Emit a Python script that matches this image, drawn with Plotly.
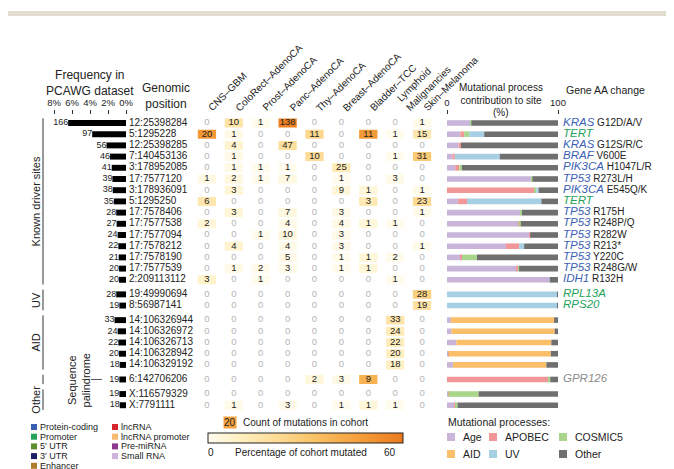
import numpy as np
import plotly.graph_objects as go

W, H = 674, 469
OFF = 8  # page body margin of the browser
FW, FH = W - OFF, H - OFF
FONT = "Liberation Sans, Arial, Helvetica, sans-serif"

# ---------------- data ----------------
genomic_positions = ["12:25398284", "5:1295228", "12:25398285", "7:140453136", "3:178952085",
                     "17:7577120", "3:178936091", "5:1295250", "17:7578406", "17:7577538",
                     "17:7577094", "17:7578212", "17:7578190", "17:7577539", "2:209113112",
                     "19:49990694", "8:56987141",
                     "14:106326944", "14:106326972", "14:106326713", "14:106328942", "14:106329192",
                     "6:142706206", "X:116579329", "X:7791111"]
pcawg_counts = [166, 97, 56, 46, 41, 39, 38, 35, 28, 27, 24, 22, 21, 20, 20,
                28, 19, 33, 24, 22, 20, 18, 19, 19, 18]
site_groups = (["Known driver sites"] * 15 + ["UV"] * 2 + ["AID"] * 5
               + ["Sequence palindrome"] + ["Other"] * 2)
PCAWG_TOTAL = 2583
freq_ticks_pct = [8, 6, 4, 2, 0]

cohorts = ["CNS–GBM", "ColoRect–AdenoCA", "Prost–AdenoCA", "Panc–AdenoCA", "Thy–AdenoCA",
           "Breast–AdenoCA", "Bladder–TCC", "Lymphoid<br>Malignancies", "Skin–Melanoma"]
cohort_sizes = [41, 60, 286, 241, 48, 198, 23, 202, 107]
cohort_counts = [
    [0, 10, 1, 138, 0, 0, 0, 0, 1],
    [20, 1, 0, 0, 11, 0, 11, 1, 15],
    [0, 4, 0, 47, 0, 0, 0, 0, 0],
    [0, 1, 0, 0, 10, 0, 0, 1, 31],
    [0, 1, 1, 1, 0, 25, 0, 0, 0],
    [1, 2, 1, 7, 0, 1, 0, 3, 0],
    [0, 3, 0, 0, 0, 9, 1, 0, 1],
    [6, 0, 0, 0, 0, 0, 3, 0, 23],
    [0, 3, 0, 7, 0, 3, 0, 0, 1],
    [2, 0, 0, 4, 0, 4, 1, 1, 0],
    [0, 0, 1, 10, 0, 3, 0, 0, 0],
    [0, 4, 0, 4, 0, 3, 0, 0, 1],
    [0, 0, 0, 5, 0, 1, 1, 2, 0],
    [0, 1, 2, 3, 0, 1, 1, 0, 0],
    [3, 0, 1, 0, 0, 0, 0, 1, 0],
    [0, 0, 0, 0, 0, 0, 0, 0, 28],
    [0, 0, 0, 0, 0, 0, 0, 0, 19],
    [0, 0, 0, 0, 0, 0, 0, 33, 0],
    [0, 0, 0, 0, 0, 0, 0, 24, 0],
    [0, 0, 0, 0, 0, 0, 0, 22, 0],
    [0, 0, 0, 0, 0, 0, 0, 20, 0],
    [0, 0, 0, 0, 0, 0, 0, 18, 0],
    [0, 0, 0, 0, 2, 3, 9, 0, 0],
    [0, 0, 0, 0, 0, 0, 0, 0, 0],
    [0, 1, 0, 3, 0, 1, 1, 1, 0],
]

process_names = ["Age", "APOBEC", "COSMIC5", "AID", "UV", "Other"]
process_colors = ["#c9b5da", "#f29797", "#a9d68b", "#fbbe69", "#a7cfe3", "#6f6f6f"]
proc_age = [21, 12, 10.5, 5, 7.5, 76, 0, 10, 66, 64, 74, 53, 12.5, 63, 92.5, 0, 0, 3.5, 4, 8.5, 1, 5.5, 0, 1, 6.5]
proc_apobec = [0, 3.5, 2, 2, 3.5, 0, 79, 8, 0, 1.5, 1, 12, 1, 1, 0, 0, 0, 0, 0, 0, 0.5, 0, 91.5, 0.5, 1.5]
proc_cosmic5 = [1, 4.5, 0, 0, 2.5, 1, 1.5, 0, 1.5, 1, 0, 0, 13.5, 1, 0, 0, 0, 0, 0, 0, 0, 0, 1.5, 27, 1.5]
proc_aid = [0, 0, 0, 0, 0, 0, 0, 0, 0, 0, 0, 0, 0, 0, 0, 0, 0, 93, 93, 85.5, 92, 84, 0, 0, 0]
proc_uv = [0, 13.5, 0, 40.5, 0, 0, 2, 67, 0, 0, 0, 4.5, 0, 0, 0, 99.5, 99.7, 0, 0, 0, 0, 0, 0, 0, 0]
proc_other = [78, 66.5, 87.5, 52.5, 86.5, 23, 17.5, 15, 32.5, 33.5, 25, 30.5, 73, 35, 7.5, 0.5, 0.3,
              3.5, 3, 6, 6.5, 10.5, 7, 71.5, 90.5]

gene_names = ["KRAS", "TERT", "KRAS", "BRAF", "PIK3CA", "TP53", "PIK3CA", "TERT", "TP53", "TP53",
              "TP53", "TP53", "TP53", "TP53", "IDH1", "RPL13A", "RPS20", "", "", "", "", "",
              "GPR126", "", ""]
gene_types = ["Protein-coding", "Promoter", "Protein-coding", "Protein-coding", "Protein-coding",
              "Protein-coding", "Protein-coding", "Promoter", "Protein-coding", "Protein-coding",
              "Protein-coding", "Protein-coding", "Protein-coding", "Protein-coding", "Protein-coding",
              "Promoter", "Promoter", "", "", "", "", "", "Intergenic", "", ""]
aa_changes = ["G12D/A/V", "", "G12S/R/C", "V600E", "H1047L/R", "R273L/H", "E545Q/K", "", "R175H",
              "R248P/Q", "R282W", "R213*", "Y220C", "R248G/W", "R132H", "", "", "", "", "", "", "",
              "", "", ""]

element_types_col1 = ["Protein-coding", "Promoter", "5′ UTR", "3′ UTR", "Enhancer"]
element_colors_col1 = ["#3b5fb4", "#25a35a", "#5e8f2e", "#1d1f66", "#b07a2e"]
element_types_col2 = ["lncRNA", "lncRNA promoter", "Pre-miRNA", "Small RNA"]
element_colors_col2 = ["#d7262b", "#f9b870", "#8b3a8e", "#cdb6da"]
type_text_color = {"Protein-coding": "#3b5fb4", "Promoter": "#25a35a", "Intergenic": "#8c8c8c", "": "#000"}

pct_max = 60
colorscale = [[0, "#fffcef"], [0.15, "#fff1c4"], [0.35, "#fddc97"], [0.55, "#f9c265"],
              [0.8, "#f39a37"], [1, "#eb7a1f"]]

# ---------------- layout helpers (reference pixel -> paper) ----------------
def px_x(p):
    return (p - OFF) / FW


def px_y(p):
    return 1 - (p - OFF) / FH


ROW_PX = 11.2
ROW0_PX = 123
Y_TOP_PX = 115
Y_BOT_PX = 414
GROUP_GAP = 0.3

row_y = []
g = 0.0
for i, grp in enumerate(site_groups):
    if i > 0 and grp != site_groups[i - 1]:
        g += GROUP_GAP
    row_y.append(i + g)
y_top = (Y_TOP_PX - ROW0_PX) / ROW_PX
y_bot = (Y_BOT_PX - ROW0_PX) / ROW_PX
n = len(row_y)

fig = go.Figure()

# frequency bars
fig.add_trace(go.Bar(x=pcawg_counts, y=row_y, orientation="h", width=0.53,
                     marker=dict(color="black", line=dict(width=0)), xaxis="x", yaxis="y",
                     hoverinfo="skip"))
fig.add_trace(go.Scatter(x=pcawg_counts, y=row_y, mode="text", text=[str(c) for c in pcawg_counts],
                         textposition="middle left", textfont=dict(size=9, color="#222", family=FONT),
                         cliponaxis=False, xaxis="x", yaxis="y", hoverinfo="skip"))
# genomic positions
fig.add_trace(go.Scatter(x=[0] * n, y=row_y, mode="text", text=genomic_positions,
                         textposition="middle right", textfont=dict(size=10, color="#222", family=FONT),
                         cliponaxis=False, xaxis="x2", yaxis="y", hoverinfo="skip"))

# heatmap cells
cell_x, cell_y, cell_pct = [], [], []
txt_x, txt_y, txt_s, txt_c = [], [], [], []
for i, row in enumerate(cohort_counts):
    for j, v in enumerate(row):
        txt_x.append(j)
        txt_y.append(row_y[i])
        txt_s.append(str(v))
        txt_c.append("#222" if v else "#b5b5b5")
        if v:
            cell_x.append(j)
            cell_y.append(row_y[i])
            cell_pct.append(100.0 * v / cohort_sizes[j])
CELL_W = 0.68
fig.add_trace(go.Bar(
    y=cell_y, x=[CELL_W] * len(cell_x), base=[c - CELL_W / 2 for c in cell_x], orientation="h", width=0.8,
    marker=dict(color=cell_pct, colorscale=colorscale, cmin=0, cmax=pct_max, line=dict(width=0),
                showscale=True,
                colorbar=dict(orientation="h", x=px_x(305.5), xanchor="center", y=px_y(433), yanchor="top",
                              len=195, lenmode="pixels", thickness=10, thicknessmode="pixels",
                              outlinewidth=1, outlinecolor="#222", showticklabels=False, ticks="",
                              xpad=0, ypad=0)),
    xaxis="x3", yaxis="y", hoverinfo="skip"))
fig.add_trace(go.Scatter(x=txt_x, y=txt_y, mode="text", text=txt_s,
                         textfont=dict(size=9.5, color=txt_c, family=FONT),
                         cliponaxis=False, xaxis="x3", yaxis="y", hoverinfo="skip"))

# mutational process stacked bars
proc_vals = np.array([proc_age, proc_apobec, proc_cosmic5, proc_aid, proc_uv, proc_other], dtype=float)
cum = np.vstack([np.zeros(n), np.cumsum(proc_vals, axis=0)[:-1]])
for k, name in enumerate(process_names):
    fig.add_trace(go.Bar(x=proc_vals[k], base=cum[k], y=row_y, orientation="h", width=0.5,
                         marker=dict(color=process_colors[k], line=dict(width=0)), name=name,
                         xaxis="x4", yaxis="y", hoverinfo="skip"))

# gene labels
gene_labels = []
for gname, gtype, aa in zip(gene_names, gene_types, aa_changes):
    if gname:
        lab = f"<i><span style='color:{type_text_color[gtype]};font-size:11.5px'>{gname}</span></i>"
        if aa:
            lab += f" {aa}"
    else:
        lab = ""
    gene_labels.append(lab)
fig.add_trace(go.Scatter(x=[0] * n, y=row_y, mode="text", text=gene_labels, textposition="middle right",
                         textfont=dict(size=10, color="#222", family=FONT), cliponaxis=False,
                         xaxis="x5", yaxis="y", hoverinfo="skip"))

hidden = dict(visible=False, anchor="y", fixedrange=True)
fig.update_layout(
    width=FW, height=FH, margin=dict(l=0, r=0, t=0, b=0, autoexpand=False),
    paper_bgcolor="white", plot_bgcolor="rgba(0,0,0,0)",
    barmode="overlay", showlegend=False, font=dict(family=FONT, color="#222"),
    xaxis=dict(domain=[px_x(54), px_x(126)], range=[freq_ticks_pct[0] / 100 * PCAWG_TOTAL, 0],
               side="top", anchor="y",
               tickvals=[p / 100 * PCAWG_TOTAL for p in freq_ticks_pct],
               ticktext=[f"{p}%" for p in freq_ticks_pct], ticks="outside", ticklen=4, tickcolor="#333",
               tickfont=dict(size=9.5), showgrid=False, zeroline=False, showline=False, fixedrange=True),
    xaxis2=dict(domain=[px_x(129), px_x(200)], range=[0, 1], **hidden),
    xaxis3=dict(domain=[px_x(193.5), px_x(435.5)], range=[-0.5, 8.5], **hidden),
    xaxis4=dict(domain=[px_x(447), px_x(558)], range=[0, 100], side="top", anchor="y",
                tickvals=[0, 100], ticks="outside", ticklen=4, tickcolor="#333", tickfont=dict(size=9.5),
                showgrid=False, zeroline=False, showline=False, fixedrange=True),
    xaxis5=dict(domain=[px_x(563), 1], range=[0, 1], **hidden),
    yaxis=dict(domain=[px_y(Y_BOT_PX), px_y(Y_TOP_PX)], range=[y_bot, y_top], visible=False, fixedrange=True),
)

ann = []
shapes = []


def text(x, y, s, size=10, xanchor="center", yanchor="middle", angle=0, color="#222", **kw):
    ann.append(dict(x=px_x(x), y=px_y(y), xref="paper", yref="paper", text=s, showarrow=False,
                    font=dict(size=size, color=color, family=FONT), xanchor=xanchor, yanchor=yanchor,
                    textangle=angle, **kw))


# top band
shapes.append(dict(type="rect", xref="paper", yref="paper", x0=0, x1=1, y0=px_y(16), y1=px_y(11),
                   fillcolor="#e3ddd0", line=dict(width=0)))

# titles
text(90, 83, "Frequency in<br>PCAWG dataset", size=12)
text(166, 96, "Genomic<br>position", size=12)
text(501, 94, "Mutational process<br>contribution to site", size=10)
text(501, 113, "(%)", size=10)
text(564, 90, "Gene AA change", size=10.5, xanchor="left")

# column headers
for j, c in enumerate(cohorts):
    ann.append(dict(x=j - 0.12, y=px_y(116), xref="x3", yref="paper", text=c, showarrow=False,
                    font=dict(size=10, color="#222", family=FONT), xanchor="left", yanchor="bottom",
                    textangle=-45, align="left"))

# group brackets
group_order = []
for grp in site_groups:
    if grp not in group_order:
        group_order.append(grp)
BR_X = 43
for grp in group_order:
    ys = [row_y[i] for i, gg in enumerate(site_groups) if gg == grp]
    y0p = ROW0_PX + (min(ys) - 0.42) * ROW_PX
    y1p = ROW0_PX + (max(ys) + 0.42) * ROW_PX
    shapes.append(dict(type="line", xref="paper", yref="paper", x0=px_x(BR_X), x1=px_x(BR_X),
                       y0=px_y(y0p), y1=px_y(y1p), line=dict(color="#333", width=1)))
    ymid = (y0p + y1p) / 2
    if grp == "Sequence palindrome":
        text(79, ymid + 1, "Sequence<br>palindrome", size=11, angle=-90)
        shapes.append(dict(type="line", xref="paper", yref="paper", x0=px_x(91), x1=px_x(102),
                           y0=px_y(ymid), y1=px_y(ymid), line=dict(color="#555", width=1)))
    else:
        text(36, ymid, grp, size=11, angle=-90)

# count key
text(230, 422, "20", size=10, bgcolor="#f4a23f", borderpad=0)
text(241, 422, "Count of mutations in cohort", size=10, xanchor="left")
text(211, 452, "0", size=10)
text(301, 452, "Percentage of cohort mutated", size=10)
text(390, 452, "60", size=10)

# element type legend
for k, (lab, col) in enumerate(zip(element_types_col1, element_colors_col1)):
    yy = 427 + k * 9.7
    shapes.append(dict(type="rect", xref="paper", yref="paper", x0=px_x(31), x1=px_x(37),
                       y0=px_y(yy + 3), y1=px_y(yy - 3), fillcolor=col, line=dict(width=0)))
    text(38, yy, lab, size=9, xanchor="left")
for k, (lab, col) in enumerate(zip(element_types_col2, element_colors_col2)):
    yy = 427 + k * 9.7
    shapes.append(dict(type="rect", xref="paper", yref="paper", x0=px_x(112), x1=px_x(118),
                       y0=px_y(yy + 3), y1=px_y(yy - 3), fillcolor=col, line=dict(width=0)))
    text(119, yy, lab, size=9, xanchor="left")

# mutational process legend
text(446, 422, "Mutational processes:", size=10.5, xanchor="left")
leg_x = [447, 489, 559]
for k, (name, col) in enumerate(zip(process_names, process_colors)):
    r, c = divmod(k, 3)
    yy = 437 + r * 17
    x0 = leg_x[c]
    shapes.append(dict(type="rect", xref="paper", yref="paper", x0=px_x(x0), x1=px_x(x0 + 8),
                       y0=px_y(yy + 4), y1=px_y(yy - 4), fillcolor=col, line=dict(width=0)))
    text(x0 + 14, yy, name, size=10.5, xanchor="left")

fig.update_layout(annotations=ann, shapes=shapes)
fig.write_html("out.html", config={"displayModeBar": False})
